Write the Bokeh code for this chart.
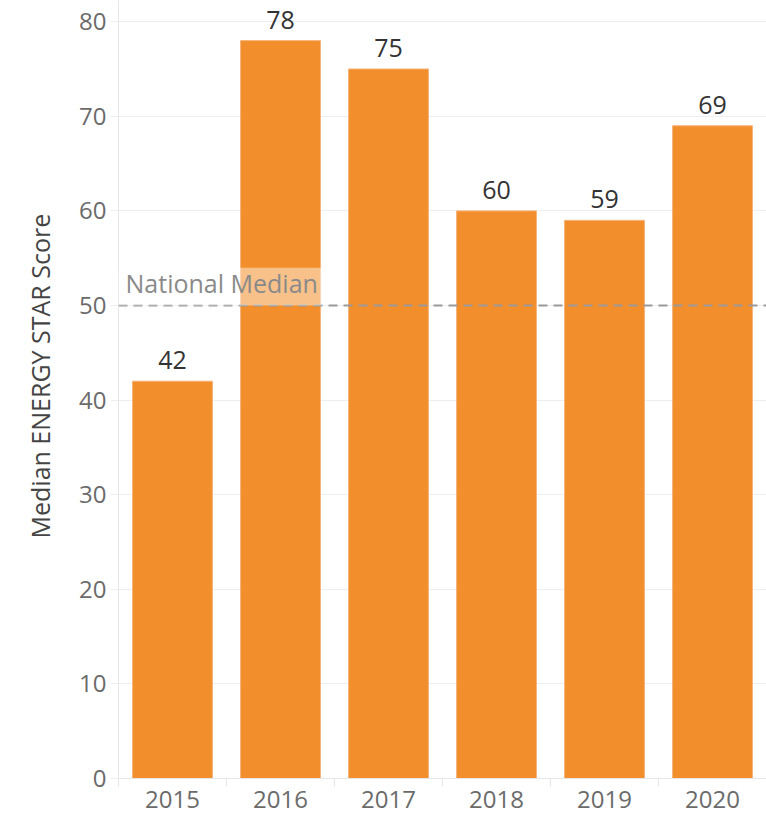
from bokeh.plotting import figure
from bokeh.models import FixedTicker, Span, BoxAnnotation, Label, Title, ColumnDataSource, Range1d
from bokeh.core.properties import value
from bokeh.embed import file_html
from bokeh.resources import INLINE

# Median ENERGY STAR score by reporting year
years = ["2015", "2016", "2017", "2018", "2019", "2020"]
scores = [42, 78, 75, 60, 59, 69]
national_median = 50
y_ticks = [0, 10, 20, 30, 40, 50, 60, 70, 80]

FONT = "Open Sans"
BAR_COLOR = "#F28E2B"
GRID = "#eeeeee"
AXIS = "#e6e6e6"

xs = list(range(len(years)))
src = ColumnDataSource(dict(x=xs, year=years, score=scores,
                            label=[str(s) for s in scores]))

p = figure(width=766, height=815,
           x_range=Range1d(-0.5, len(years) - 0.5),
           y_range=Range1d(0, 82.24),
           output_backend="svg", toolbar_location=None,
           min_border_left=118, min_border_right=0,
           min_border_top=0, min_border_bottom=37)
p.outline_line_color = None
p.background_fill_color = "white"
p.border_fill_color = "white"

p.vbar(x="x", top="score", width=0.74, bottom=0, source=src,
       fill_color=BAR_COLOR, line_color="#f6b47a", line_width=1)

p.text(x="x", y="score", text="label", source=src,
       text_align="center", text_baseline="bottom", y_offset=-12,
       text_font=value(FONT), text_font_size="25px", text_color="#333333")

# National median reference line with its label
p.add_layout(Span(location=national_median, dimension="width",
                  line_color="#9a9a9a", line_width=2, line_dash="9 6"))
p.add_layout(BoxAnnotation(left=-0.5, right=1.38, bottom=national_median, top=54,
                           fill_color="white", fill_alpha=0.45, line_color=None))
p.add_layout(Label(x=-0.5, y=national_median, x_offset=7, y_offset=5,
                   text="National Median", text_font=FONT,
                   text_baseline="bottom",
                   text_font_size="25px", text_color="#8a8a8a"))

# Grid
p.xgrid.grid_line_color = None
p.ygrid.grid_line_color = GRID
p.ygrid.ticker = FixedTicker(ticks=y_ticks)

# Y axis
ya = p.yaxis[0]
ya.ticker = FixedTicker(ticks=y_ticks)
ya.major_label_text_font = FONT
ya.major_label_text_font_size = "24px"
ya.major_label_text_color = "#6b6b6b"
ya.major_label_standoff = 4
ya.axis_line_color = AXIS
ya.major_tick_line_color = GRID
ya.major_tick_out = 8
ya.major_tick_in = 0
ya.minor_tick_line_color = None

# Value-axis title, set a little above the middle of the axis
p.add_layout(Title(text="Median ENERGY STAR Score", align="left", offset=240,
                   standoff=39, text_font=FONT, text_font_size="25px",
                   text_font_style="normal", text_color="#444444"), "left")

# X axis: labels at bar centres, small ticks at the category boundaries
xa = p.xaxis[0]
xa.ticker = FixedTicker(ticks=xs, minor_ticks=[i - 0.5 for i in range(len(years) + 1)])
xa.major_label_overrides = {i: y for i, y in zip(xs, years)}
xa.major_label_text_font = FONT
xa.major_label_text_font_size = "24px"
xa.major_label_text_color = "#6b6b6b"
xa.major_label_standoff = 4
xa.axis_line_color = AXIS
xa.major_tick_line_color = None
xa.major_tick_out = 0
xa.minor_tick_line_color = AXIS
xa.minor_tick_out = 8
xa.minor_tick_in = 0

open("out.html", "w").write(file_html(p, INLINE))
